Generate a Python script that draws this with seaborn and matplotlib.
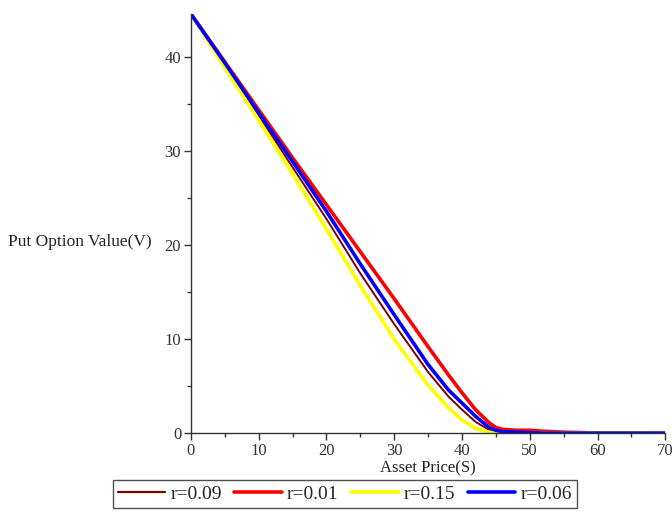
import matplotlib
matplotlib.use("Agg")
import matplotlib.pyplot as plt
from matplotlib.ticker import MultipleLocator
import pandas as pd
import seaborn as sns

# Asset price grid and put option values for each interest rate
asset_price = [0, 5, 10, 15, 20, 25, 30, 35, 38, 40, 42, 44, 45, 46, 48, 50, 52, 55, 58, 60, 65, 70]

v_r009 = [44.6, 39.2, 33.8, 28.3, 22.8, 17.0, 11.6, 6.5, 3.9, 2.5, 1.2, 0.35, 0.15, 0.05, 0.0, 0.0, 0.0, 0.0, 0.0, 0.0, 0.0, 0.0]
v_r001 = [44.6, 39.5, 34.4, 29.3, 24.3, 19.3, 14.3, 9.2, 6.2, 4.3, 2.5, 1.1, 0.6, 0.4, 0.3, 0.3, 0.2, 0.1, 0.05, 0.0, 0.0, 0.0]
v_r015 = [44.6, 38.9, 33.3, 27.6, 21.7, 15.7, 10.0, 5.1, 2.7, 1.4, 0.5, 0.1, 0.0, 0.0, 0.0, 0.0, 0.0, 0.0, 0.0, 0.0, 0.0, 0.0]
v_r006 = [44.6, 39.4, 34.1, 28.9, 23.6, 18.0, 12.6, 7.3, 4.6, 3.2, 1.8, 0.6, 0.3, 0.15, 0.1, 0.05, 0.0, 0.0, 0.0, 0.0, 0.0, 0.0]

labels = ["r=0.09", "r=0.01", "r=0.15", "r=0.06"]
colors = ["#7a0000", "#ff0000", "#ffff00", "#0000ff"]
widths = [1.4, 2.6, 2.6, 2.6]

frames = []
for lab, vals in zip(labels, [v_r009, v_r001, v_r015, v_r006]):
    frames.append(pd.DataFrame({"S": asset_price, "V": vals, "rate": lab}))
df = pd.concat(frames, ignore_index=True)

sns.set_style("ticks")
plt.rcParams["font.family"] = ["Liberation Serif", "DejaVu Serif"]

fig = plt.figure(figsize=(6.72, 5.15), dpi=100)
ax = fig.add_axes([0.284, 0.159, 0.706, 0.814])

sns.lineplot(data=df, x="S", y="V", hue="rate", hue_order=labels,
             palette=dict(zip(labels, colors)), ax=ax, legend=False,
             estimator=None, sort=False)
for line, lw in zip(ax.lines, widths):
    line.set_linewidth(lw)
    line.set_solid_capstyle("round")

ax.set_xlim(0, 70)
ax.set_ylim(0, 44.6)
ax.xaxis.set_major_locator(MultipleLocator(10))
ax.xaxis.set_minor_locator(MultipleLocator(5))
ax.yaxis.set_major_locator(MultipleLocator(10))
ax.yaxis.set_minor_locator(MultipleLocator(5))
ax.tick_params(which="major", direction="out", length=5, width=1, colors="#333333",
               labelsize=12, labelcolor="#333333", pad=2)
ax.tick_params(which="minor", direction="out", length=3, width=1, colors="#333333")

for side in ["top", "right"]:
    ax.spines[side].set_visible(False)
for side in ["left", "bottom"]:
    ax.spines[side].set_color("#333333")
    ax.spines[side].set_linewidth(1.0)

ax.set_xlabel("Asset Price(S)", fontsize=12, color="#222222", labelpad=1)
ax.set_ylabel("Put Option Value(V)", fontsize=12.5, color="#222222",
              rotation=0, ha="right", va="center")
ax.yaxis.set_label_coords(-0.082, 20.3 / 44.6)

handles = [plt.Line2D([0], [0], color=c, lw=lw) for c, lw in zip(colors, [1.6, 2.6, 2.6, 2.6])]
leg = fig.legend(handles, labels, loc="center", bbox_to_anchor=(0.513, 0.041), ncol=4,
                 frameon=True, fancybox=False, fontsize=14, handlelength=2.45,
                 handletextpad=0.25, columnspacing=0.65, borderpad=0.25,
                 borderaxespad=0)
leg.get_frame().set_edgecolor("#222222")
leg.get_frame().set_linewidth(1.0)

fig.savefig("out.png", dpi=100)
